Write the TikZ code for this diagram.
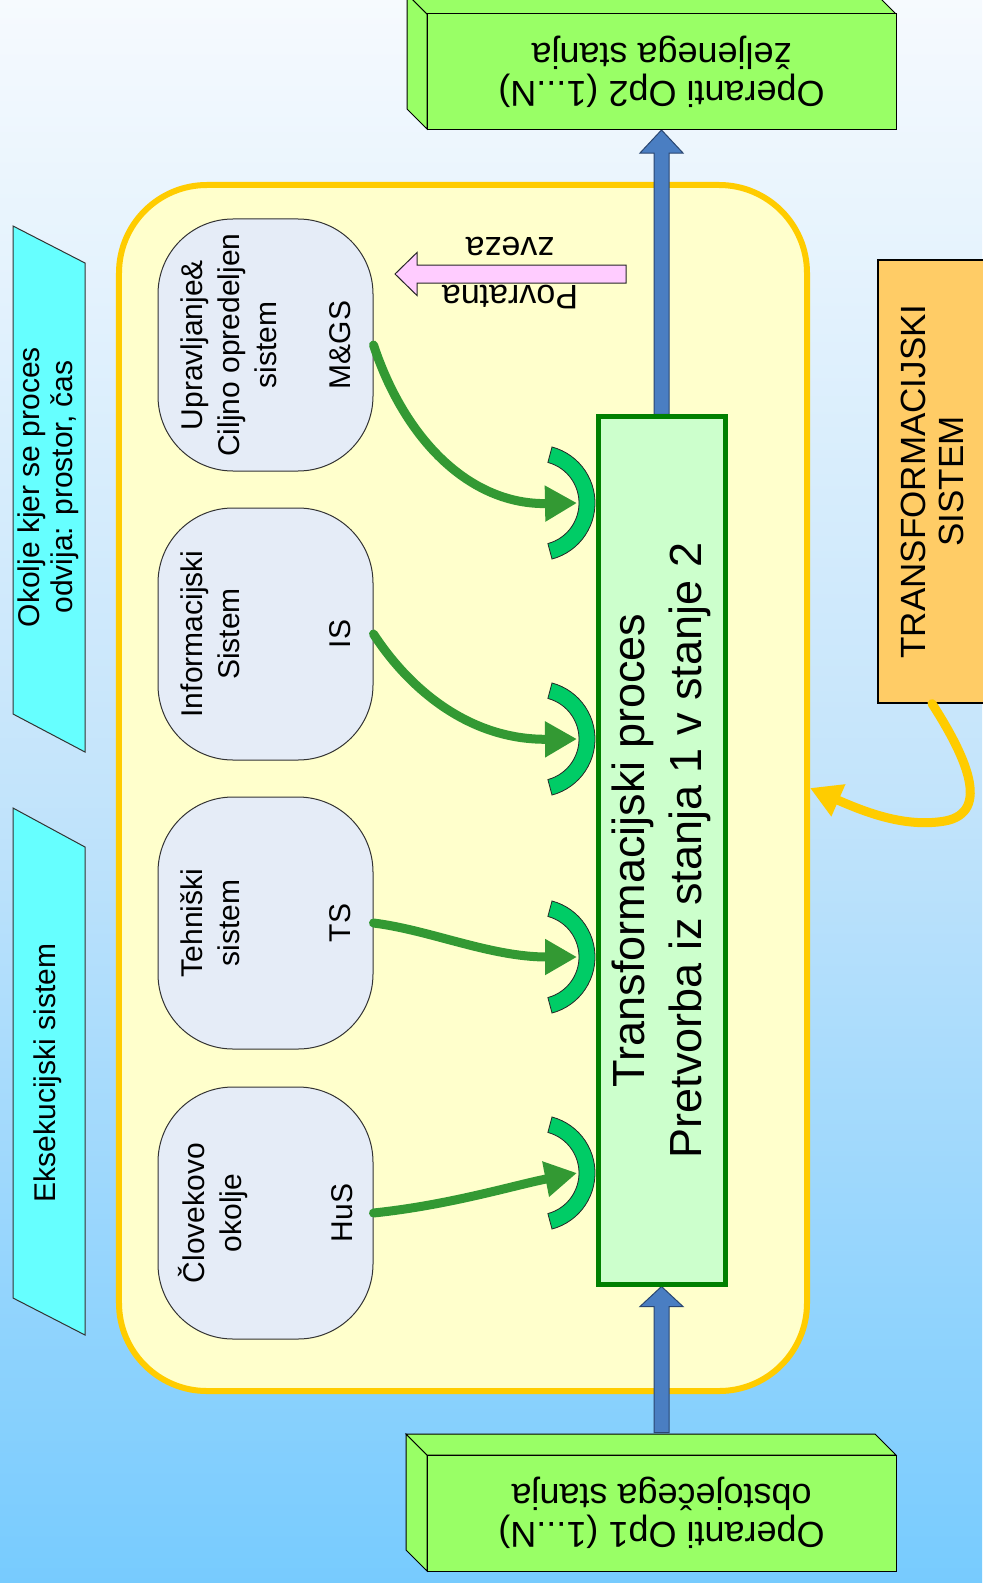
\documentclass[tikz,border=0pt]{standalone}
\usepackage{fontspec}
\setmainfont{Liberation Sans}
\usetikzlibrary{arrows.meta,calc}
\pgfdeclarelayer{back}
\pgfdeclarelayer{mid}
\pgfsetlayers{back,mid,main}

\definecolor{bgtop}{HTML}{F6FAFE}
\definecolor{bgmid}{HTML}{C3E4FB}
\definecolor{bgbot}{HTML}{77CBFE}
\definecolor{opgreen}{HTML}{99FF66}
\definecolor{contfill}{HTML}{FFFFCC}
\definecolor{contline}{HTML}{FFCC00}
\definecolor{cyanbox}{HTML}{66FFFF}
\definecolor{subfill}{HTML}{E5ECF7}
\definecolor{procfill}{HTML}{CCFFCC}
\definecolor{procline}{HTML}{008000}
\definecolor{arcgreen}{HTML}{00CC66}
\definecolor{arrowgreen}{HTML}{339933}
\definecolor{blockblue}{HTML}{4A7EC2}
\definecolor{blueedge}{HTML}{2A4670}
\definecolor{pinkfill}{HTML}{FFCCFF}
\definecolor{orangefill}{HTML}{FFCC66}

\newcommand{\setfs}[2]{\fontsize{#1bp}{#2bp}\selectfont}

\begin{document}
\begin{tikzpicture}[x=1bp,y=-1bp,
  container/.style={draw=contline, line width=6bp, fill=contfill, rounded corners=88bp,
    minimum width=688bp, minimum height=1206bp, inner sep=0},
  para/.style={fill=cyanbox, draw=black!80, line width=1bp},
  paratext/.style={rotate=90, align=center, inner sep=0, font=\setfs{30}{33}},
  opface/.style={fill=opgreen, draw=black, line width=1bp},
  opbox/.style={rotate=180, fill=opgreen, draw=black, line width=1bp,
    minimum width=469bp, minimum height=116bp, inner sep=0, align=center, font=\setfs{36}{38}},
  subsys/.style={rotate=90, draw=black!80, line width=1bp, fill=subfill, rounded corners=75bp,
    minimum width=252bp, minimum height=215bp, inner sep=0, align=center, font=\setfs{30}{37}},
  procbox/.style={rotate=90, draw=procline, line width=5bp, fill=procfill,
    minimum width=867bp, minimum height=127bp, inner sep=0, align=center, font=\setfs{45}{57}},
  tsbox/.style={rotate=90, draw=black, line width=1.2bp, fill=orangefill,
    minimum width=443bp, minimum height=108bp, inner sep=0, align=center, font=\setfs{35}{38}},
  crescent/.style={fill=arcgreen, draw=black!85, line width=0.8bp},
  greenarr/.style={draw=arrowgreen, line width=9bp, line cap=round,
    -{Triangle[length=32bp,width=34bp]}},
  yellowarr/.style={draw=contline, line width=9bp, line cap=round,
    -{Triangle[length=31bp,width=33bp]}},
  bluearr/.style={fill=blockblue, draw=blueedge, line width=1bp},
  pinkarr/.style={fill=pinkfill, draw=black!85, line width=1bp},
  fbtext/.style={rotate=180, align=center, inner sep=0, font=\setfs{34}{48}}
]
\useasboundingbox (0,0) rectangle (982,1583);

\begin{pgfonlayer}{back}
  \shade[top color=bgtop, bottom color=bgbot, middle color=bgmid] (0,0) rectangle (982,1583);
  \node[container] (cont) at (463,788) {};
\end{pgfonlayer}

% environment parallelograms
\draw[para] (13,226) -- (85,263) -- (85,752) -- (13,714) -- cycle;
\node[paratext] (env) at (48,487) {Okolje kjer se proces\\odvija: prostor, čas};
\draw[para] (13,808) -- (85,847) -- (85,1335) -- (13,1298) -- cycle;
\node[paratext] (exe) at (48,1073) {Eksekucijski sistem};

% operand boxes (3D)
\draw[opface] (407,-6) -- (427,14) -- (427,129) -- (407,109) -- cycle;
\draw[opface] (407,-6) -- (876,-6) -- (896,14) -- (427,14) -- cycle;
\node[opbox] (op2) at (661.5,71.5) {Operanti Op2 (1...N)\\željenega stanja};

\draw[opface] (406,1434) -- (427,1455) -- (427,1571) -- (406,1550) -- cycle;
\draw[opface] (406,1434) -- (875,1434) -- (896,1455) -- (427,1455) -- cycle;
\node[opbox] (op1) at (661.5,1513) {Operanti Op1 (1...N)\\obstoječega stanja};

% subsystems
\node[subsys] (mgs) at (265.5,345) {Upravljanje\&\\Ciljno opredeljen\\sistem\\\mbox{}\\M\&GS};
\node[subsys] (is) at (265.5,634) {Informacijski\\Sistem\\\mbox{}\\\mbox{}\\IS};
\node[subsys] (ts) at (265.5,923) {Tehniški\\sistem\\\mbox{}\\\mbox{}\\TS};
\node[subsys] (hus) at (265.5,1213) {Človekovo\\okolje\\\mbox{}\\\mbox{}\\HuS};

% transformation process
\node[procbox] (proc) at (661.5,850.5) {Transformacijski proces\\Pretvorba iz stanja 1 v stanje 2};

% transformation system
\node[tsbox] (tsys) at (932,481.5) {TRANSFORMACIJSKI\\SISTEM};

% crescents (interfaces)
\foreach \cy/\nm in {503/a1,739/a2,957/a3,1173/a4}{
  \draw[crescent] plot[domain=-75:75, samples=30] ({537+58*cos(\x)},{\cy+58*sin(\x)})
    -- plot[domain=75:-75, samples=30] ({537+42*cos(\x)},{\cy+42*sin(\x)}) -- cycle;
  \coordinate (\nm) at (577,\cy);
}

% green arrows
\draw[greenarr] (mgs.south) .. controls (405,440) and (470,505) .. (a1);
\draw[greenarr] (is.south) .. controls (410,690) and (470,740) .. (a2);
\draw[greenarr] (ts.south) .. controls (430,930) and (490,957) .. (a3);
\draw[greenarr] (hus.south) .. controls (450,1205) and (515,1185) .. (a4);

% feedback arrow
\draw[pinkarr] (395,274) -- (417,252.5) -- (417,265) -- (626,265) -- (626,283) -- (417,283) -- (417,295.5) -- cycle;
\node[fbtext] (fb) at (510,273) {Povratna\\zveza};

% yellow arrow
\draw[yellowarr] (tsys.west) .. controls (965,755) and (992,812) .. (945,821)
  .. controls (905,828) and (865,812) .. (cont.east);

% blue block arrows
\begin{pgfonlayer}{mid}
  \draw[bluearr] ($(proc.east)+(-7.5,0)$) -- ($(op2.north)+(-7.5,23)$) -- ($(op2.north)+(-21.5,23)$)
    -- (op2.north) -- ($(op2.north)+(21.5,23)$) -- ($(op2.north)+(7.5,23)$) -- ($(proc.east)+(7.5,0)$) -- cycle;
  \draw[bluearr] ($(op1.south)+(-7.5,-22)$) -- ($(proc.west)+(-7.5,20)$) -- ($(proc.west)+(-21.5,20)$)
    -- (proc.west) -- ($(proc.west)+(21.5,20)$) -- ($(proc.west)+(7.5,20)$) -- ($(op1.south)+(7.5,-22)$) -- cycle;
\end{pgfonlayer}
\end{tikzpicture}
\end{document}
